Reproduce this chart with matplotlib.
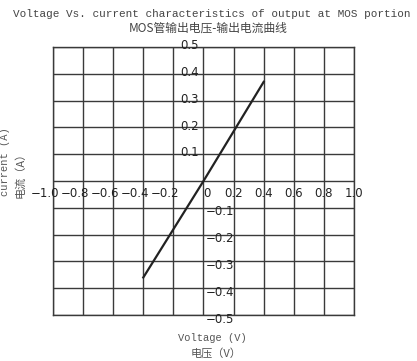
import numpy as np
import matplotlib
matplotlib.use('Agg')
import matplotlib.pyplot as plt

plt.rcParams['font.family'] = ['DejaVu Sans', 'Noto Sans CJK SC']

# measured points of the output curve
voltage = [-0.4, 0.0, 0.4]
current = [-0.36, 0.0, 0.37]

x_ticks = [-1.0, -0.8, -0.6, -0.4, -0.2, 0.2, 0.4, 0.6, 0.8, 1.0]
y_ticks = [0.5, 0.4, 0.3, 0.2, 0.1, -0.1, -0.2, -0.3, -0.4, -0.5]

fig = plt.figure(figsize=(4.17, 3.61), dpi=100)
W, H = 417, 361
ax = fig.add_axes([53 / W, 1 - 315 / H, 301 / W, 268 / H])

ax.set_xlim(-1, 1)
ax.set_ylim(-0.5, 0.5)
ax.set_xticks(np.arange(-1, 1.01, 0.2))
ax.set_yticks(np.arange(-0.5, 0.51, 0.1))
ax.grid(True, color='#3a3a3a', lw=1.0)
ax.tick_params(length=0, labelbottom=False, labelleft=False)
for s in ax.spines.values():
    s.set_color('#3a3a3a')
    s.set_linewidth(1.0)

ax.plot(voltage, current, color='#222222', lw=1.6)

# tick labels drawn on the axes like the original
for v in x_ticks:
    dx = -0.055 if v < 0 else 0.0
    ax.text(v + dx, -0.045, f'{v:.1f}'.replace('-', '\u2212'), ha='center', va='center',
            fontsize=8.5, color='#222222', clip_on=False)
ax.text(0.025, -0.045, '0', ha='center', va='center', fontsize=8.5, color='#222222')
for v in y_ticks:
    if v > 0:
        ax.text(-0.09, v + 0.005, f'{v:.1f}', ha='center', va='center',
                fontsize=8.5, color='#222222', clip_on=False)
    else:
        ax.text(0.11, v - 0.015, f'{v:.1f}'.replace('-', '\u2212'), ha='center', va='center',
                fontsize=8.5, color='#222222', clip_on=False)

fig.text(212 / W, 1 - 14 / H, 'Voltage Vs. current characteristics of output at MOS portion',
         ha='center', va='center', fontsize=7.9, family=['Liberation Mono', 'DejaVu Sans'],
         color='#444444')
fig.text(208 / W, 1 - 28 / H, 'MOS管输出电压-输出电流曲线', ha='center', va='center',
         fontsize=8.5, family=['Noto Sans CJK SC', 'DejaVu Sans'], color='#444444')
fig.text(212 / W, 1 - 338 / H, 'Voltage (V)', ha='center', va='center', fontsize=7.5,
         family=['Liberation Mono', 'DejaVu Sans'], color='#555555')
fig.text(216 / W, 1 - 353 / H, '电压（V）', ha='center', va='center', fontsize=8,
         family=['Noto Sans CJK SC', 'DejaVu Sans'], color='#555555')
fig.text(5 / W, 1 - 162 / H, 'current (A)', ha='center', va='center', rotation=90,
         fontsize=7.5, family=['Liberation Mono', 'DejaVu Sans'], color='#555555')
fig.text(20 / W, 1 - 172 / H, '电流（A）', ha='center', va='center', rotation=90,
         fontsize=8, family=['Noto Sans CJK SC', 'DejaVu Sans'], color='#555555')

fig.savefig('out.png', dpi=100)
